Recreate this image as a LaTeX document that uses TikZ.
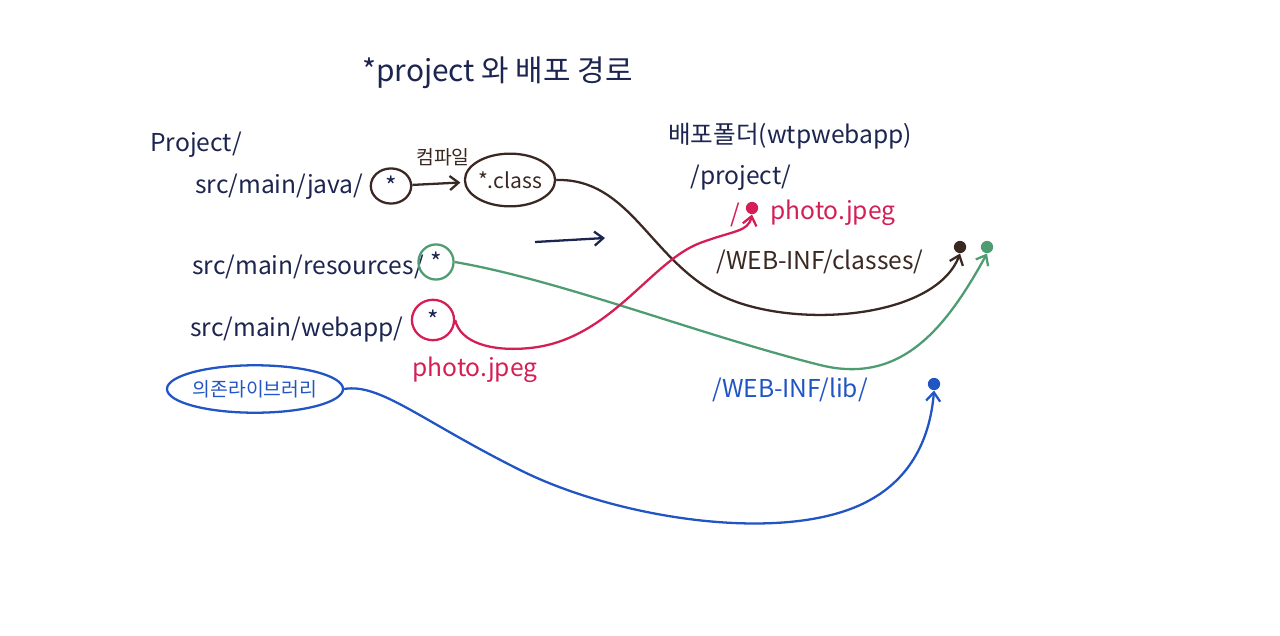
\documentclass[tikz,border=0pt]{standalone}
\usepackage{fontspec}
\setmainfont{Noto Sans CJK KR}
\usetikzlibrary{shapes.geometric,arrows.meta}
\definecolor{inkNavy}{HTML}{1C2550}
\definecolor{inkBrown}{HTML}{3A2822}
\definecolor{inkGreen}{HTML}{4E9C72}
\definecolor{inkRed}{HTML}{D41E55}
\definecolor{inkBlue}{HTML}{2255C4}
\begin{document}
\begin{tikzpicture}[x=0.02cm, y=-0.02cm,
  txt/.style={anchor=west, inner sep=0pt, font=\fontsize{14}{16}\selectfont},
  ring/.style={draw, ellipse, line width=1.3pt, inner sep=0pt, font=\fontsize{14}{16}\selectfont},
  tip/.style={circle, fill, inner sep=0pt, minimum size=7pt},
  flow/.style={-{Straight Barb[length=5pt,width=8pt]}, line width=1.3pt}
]
  \useasboundingbox (0,0) rectangle (1280,635);

  % Title
  \node[txt, color=inkNavy, font=\fontsize{17}{19}\selectfont] (title) at (362,73) {*project 와 배포 경로};

  % Source tree (left)
  \node[txt, color=inkNavy] (proj) at (150,145) {Project/};
  \node[txt, color=inkNavy] (java) at (195,187) {src/main/java/};
  \node[ring, color=inkBrown, minimum width=23pt, minimum height=20pt, text=inkNavy] (ast1) at (391,186) {*};
  \node[ring, color=inkBrown, minimum width=46pt, minimum height=30pt, font=\fontsize{12}{14}\selectfont] (cls) at (510,180) {*.class};
  \node[font=\fontsize{11}{13}\selectfont, color=inkBrown] (compile) at (443,157) {컴파일};

  \node[txt, color=inkNavy] (res) at (192,267) {src/main/resources/};
  \node[ring, color=inkGreen, minimum width=20pt, minimum height=20pt, text=inkNavy] (ast2) at (436,262) {*};

  \node[txt, color=inkNavy] (web) at (190,330) {src/main/webapp/};
  \node[ring, color=inkRed, minimum width=24pt, minimum height=23pt, text=inkNavy] (ast3) at (433,320) {*};
  \node[txt, color=inkRed] (photoA) at (412,370) {photo.jpeg};

  \node[ring, color=inkBlue, minimum width=84pt, minimum height=27pt, font=\fontsize{11}{13}\selectfont, text=inkBlue] (lib) at (255,389) {의존라이브러리};

  % Middle arrow
  \coordinate (midA) at (535,242);
  \coordinate (midB) at (605,238);
  \draw[flow, color=inkNavy] (midA) -- (midB);

  % Deploy tree (right)
  \node[txt, color=inkNavy] (dep) at (668,136) {배포폴더(wtpwebapp)};
  \node[txt, color=inkNavy] (dproj) at (690,178) {/project/};
  \node[txt, color=inkRed] (slashR) at (730,215) {/};
  \node[tip, color=inkRed] (dotR) at (752,208) {};
  \node[txt, color=inkRed] (photoB) at (770,213) {photo.jpeg};
  \node[txt, color=inkBrown] (classes) at (716,262) {/WEB-INF/classes/};
  \node[tip, color=inkBrown] (dotB) at (960,247) {};
  \node[tip, color=inkGreen] (dotG) at (987,247) {};
  \node[txt, color=inkBlue] (wlib) at (712,390) {/WEB-INF/lib/};
  \node[tip, color=inkBlue] (dotL) at (934,384) {};

  % Connectors
  \draw[flow, color=inkBrown, shorten >=2pt] (ast1) -- (cls);
  \draw[flow, color=inkBrown] (cls.east) .. controls (630,178) and (650,260) .. (720,295)
    .. controls (790,330) and (935,320) .. (dotB.south);
  \draw[flow, color=inkGreen] (ast2.east) .. controls (560,280) and (700,335) .. (820,365)
    .. controls (900,385) and (945,330) .. (dotG.south);
  \draw[flow, color=inkRed] (ast3.east) .. controls (460,342) and (490,352) .. (530,348)
    .. controls (610,340) and (650,262) .. (700,243) .. controls (735,230) and (748,232) .. (dotR.south);
  \draw[flow, color=inkBlue] (lib.east) .. controls (380,383) and (420,420) .. (520,470)
    .. controls (620,520) and (790,545) .. (870,500) .. controls (910,478) and (930,440) .. (dotL.south);
\end{tikzpicture}
\end{document}
